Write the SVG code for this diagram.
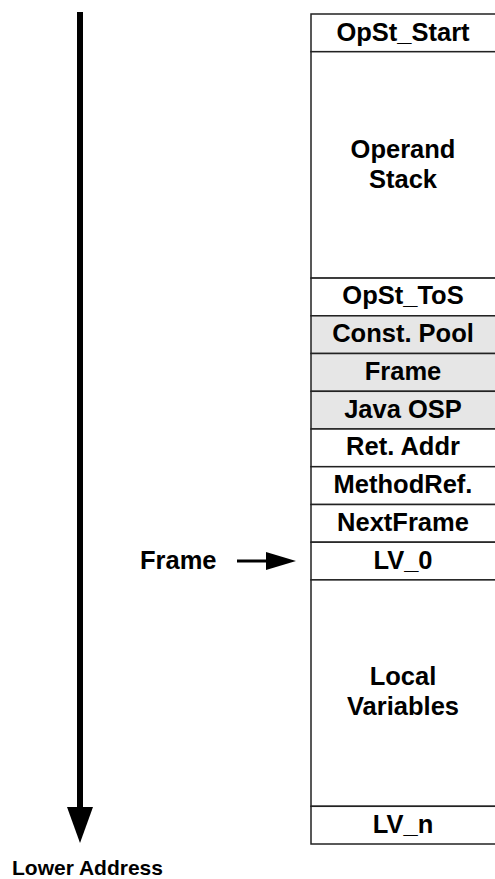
<svg xmlns="http://www.w3.org/2000/svg" width="495" height="879" viewBox="0 0 495 879">
<style>
.cell{fill:#fff;stroke:#222;stroke-width:1.5}
.gray{fill:#e6e6e6}
.t{font-family:"Liberation Sans",Arial,sans-serif;font-weight:bold;font-size:25.5px;text-anchor:middle;fill:#000}
.lbl{font-family:"Liberation Sans",Arial,sans-serif;font-weight:bold;fill:#000}
</style>
<g id="connectors">
<line x1="80" y1="12" x2="80" y2="808" stroke="#000" stroke-width="6"/>
<path d="M67,807 L93,807 L80,843 Z" fill="#000"/>
<line x1="237" y1="561" x2="268" y2="561" stroke="#000" stroke-width="3"/>
<path d="M266,552 L296,561 L266,570 Z" fill="#000"/>
</g>
<g id="opst_start"><rect class="cell" x="311" y="14" width="190" height="37.7"/><text class="t" x="403" y="40.5">OpSt_Start</text></g>
<g id="operand_stack"><rect class="cell" x="311" y="51.7" width="190" height="226.4"/><text class="t" x="403" y="158">Operand</text><text class="t" x="403" y="188">Stack</text></g>
<g id="opst_tos"><rect class="cell" x="311" y="278.1" width="190" height="37.7"/><text class="t" x="403" y="304.3">OpSt_ToS</text></g>
<g id="const_pool"><rect class="cell gray" x="311" y="315.8" width="190" height="37.7"/><text class="t" x="403" y="342.1">Const. Pool</text></g>
<g id="frame_cell"><rect class="cell gray" x="311" y="353.5" width="190" height="37.8"/><text class="t" x="403" y="379.9">Frame</text></g>
<g id="java_osp"><rect class="cell gray" x="311" y="391.3" width="190" height="37.7"/><text class="t" x="403" y="417.6">Java OSP</text></g>
<g id="ret_addr"><rect class="cell" x="311" y="429" width="190" height="37.7"/><text class="t" x="403" y="455.3">Ret. Addr</text></g>
<g id="methodref"><rect class="cell" x="311" y="466.7" width="190" height="37.8"/><text class="t" x="403" y="493.1">MethodRef.</text></g>
<g id="nextframe"><rect class="cell" x="311" y="504.5" width="190" height="37.7"/><text class="t" x="403" y="530.8">NextFrame</text></g>
<g id="lv_0"><rect class="cell" x="311" y="542.2" width="190" height="37.7"/><text class="t" x="403" y="568.5">LV_0</text></g>
<g id="local_vars"><rect class="cell" x="311" y="579.9" width="190" height="226.4"/><text class="t" x="403" y="685">Local</text><text class="t" x="403" y="715">Variables</text></g>
<g id="lv_n"><rect class="cell" x="311" y="806.3" width="190" height="37.7"/><text class="t" x="403" y="832.6">LV_n</text></g>
<g id="frame_label"><text class="lbl" x="140" y="568.5" font-size="25.5">Frame</text></g>
<g id="lower_address"><text class="lbl" x="12" y="875" font-size="21">Lower Address</text></g>
</svg>
